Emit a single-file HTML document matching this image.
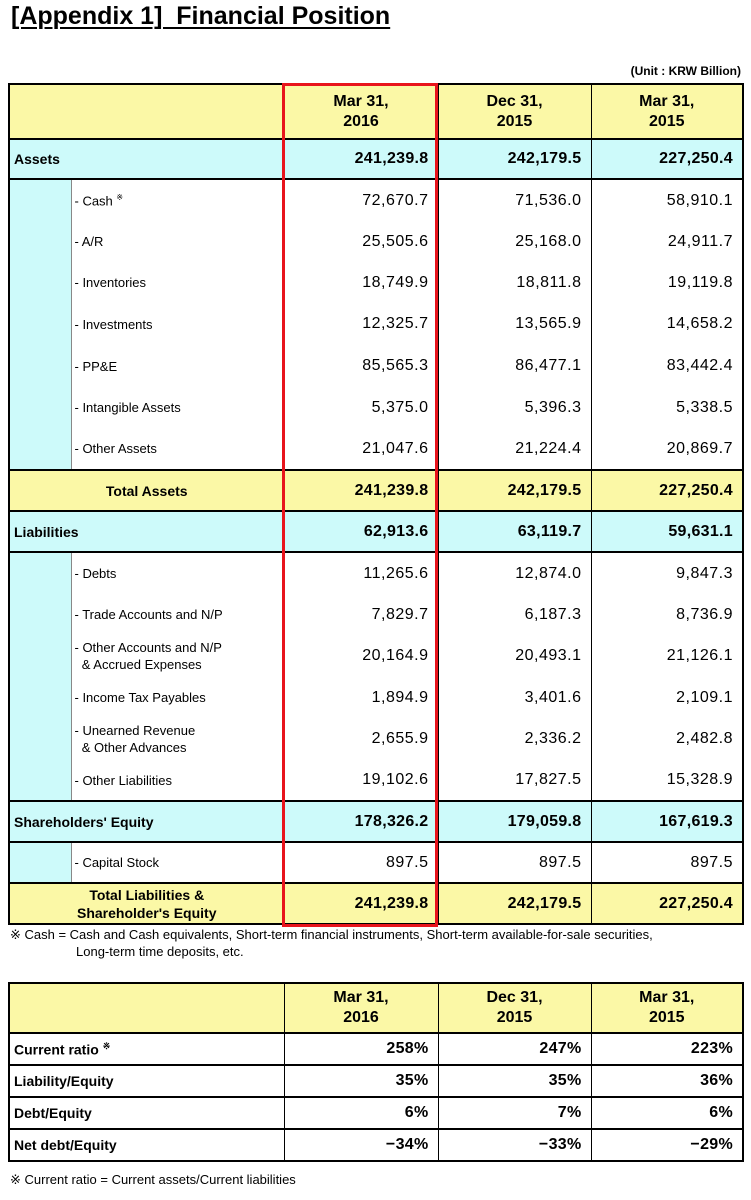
<!DOCTYPE html>
<html><head><meta charset="utf-8"><style>
body{margin:0;width:751px;height:1200px;background:#fff;font-family:"Liberation Sans",Arial,sans-serif;position:relative;overflow:hidden}
.t{position:absolute;left:11px;top:2px;font-size:25px;font-weight:bold;text-decoration:underline;text-decoration-thickness:2px;text-underline-offset:3px}
.u{position:absolute;right:10px;top:64px;font-size:12px;font-weight:bold}
table{position:absolute;left:8px;border-collapse:collapse;table-layout:fixed}
td{border-left:1px solid #000;border-right:1px solid #000;padding:0;font-size:14px}
.y{background:#fbf8a6}.c{background:#cdfafa}
.h td{border-top:2px solid #000;border-bottom:2px solid #000;text-align:center;font-weight:bold;font-size:16px;line-height:20px}
.b{font-weight:bold}
.v{text-align:right;padding-right:9px;font-size:16px;letter-spacing:0.5px}
.bv{text-align:right;padding-right:9px;font-size:16px;font-weight:bold;letter-spacing:0.3px}
.top td{border-top:2px solid #000}
.lab{padding-left:4px;font-weight:bold;font-size:14px}
.sl{padding-left:3px;font-size:13px;border-left:1px solid #888}
.cs{border-right:1px solid #888}
.red{position:absolute;left:282px;top:83px;width:150px;height:838px;border:3px solid #e8141c}
.n{position:absolute;font-size:13px}
</style></head><body>
<div class="t">[Appendix 1]&nbsp; Financial Position</div>
<div class="u">(Unit : KRW Billion)</div>
<table style="top:83px;width:734px;border:2px solid #000">
<colgroup><col style="width:62px"><col style="width:213px"><col style="width:154px"><col style="width:153px"><col style="width:152px"></colgroup>
<tr class="h y" style="height:55px"><td colspan="2"></td><td>Mar 31,<br>2016</td><td>Dec 31,<br>2015</td><td>Mar 31,<br>2015</td></tr>
<tr class="c" style="height:40px"><td colspan="2" class="lab" style="border-right:none">Assets</td><td class="bv">241,239.8</td><td class="bv">242,179.5</td><td class="bv">227,250.4</td></tr>
<tr class="top" style="height:42px"><td class="c cs" rowspan="7"></td><td class="sl">- Cash <sup style="font-size:8px">※</sup></td><td class="v">72,670.7</td><td class="v">71,536.0</td><td class="v">58,910.1</td></tr>
<tr style="height:41px"><td class="sl">- A/R</td><td class="v">25,505.6</td><td class="v">25,168.0</td><td class="v">24,911.7</td></tr>
<tr style="height:41px"><td class="sl">- Inventories</td><td class="v">18,749.9</td><td class="v">18,811.8</td><td class="v">19,119.8</td></tr>
<tr style="height:42px"><td class="sl">- Investments</td><td class="v">12,325.7</td><td class="v">13,565.9</td><td class="v">14,658.2</td></tr>
<tr style="height:42px"><td class="sl">- PP&amp;E</td><td class="v">85,565.3</td><td class="v">86,477.1</td><td class="v">83,442.4</td></tr>
<tr style="height:41px"><td class="sl">- Intangible Assets</td><td class="v">5,375.0</td><td class="v">5,396.3</td><td class="v">5,338.5</td></tr>
<tr style="height:42px"><td class="sl">- Other Assets</td><td class="v">21,047.6</td><td class="v">21,224.4</td><td class="v">20,869.7</td></tr>
<tr class="y top" style="height:41px"><td colspan="2" class="b" style="text-align:center;font-size:14px">Total Assets</td><td class="bv">241,239.8</td><td class="bv">242,179.5</td><td class="bv">227,250.4</td></tr>
<tr class="c top" style="height:41px"><td colspan="2" class="lab">Liabilities</td><td class="bv">62,913.6</td><td class="bv">63,119.7</td><td class="bv">59,631.1</td></tr>
<tr class="top" style="height:42px"><td class="c cs" rowspan="6"></td><td class="sl">- Debts</td><td class="v">11,265.6</td><td class="v">12,874.0</td><td class="v">9,847.3</td></tr>
<tr style="height:41px"><td class="sl">- Trade Accounts and N/P</td><td class="v">7,829.7</td><td class="v">6,187.3</td><td class="v">8,736.9</td></tr>
<tr style="height:42px"><td class="sl" style="line-height:17px">- Other Accounts and N/P<br>&nbsp;&nbsp;&amp; Accrued Expenses</td><td class="v">20,164.9</td><td class="v">20,493.1</td><td class="v">21,126.1</td></tr>
<tr style="height:41px"><td class="sl">- Income Tax Payables</td><td class="v">1,894.9</td><td class="v">3,401.6</td><td class="v">2,109.1</td></tr>
<tr style="height:42px"><td class="sl" style="line-height:17px">- Unearned Revenue<br>&nbsp;&nbsp;&amp; Other Advances</td><td class="v">2,655.9</td><td class="v">2,336.2</td><td class="v">2,482.8</td></tr>
<tr style="height:41px"><td class="sl">- Other Liabilities</td><td class="v">19,102.6</td><td class="v">17,827.5</td><td class="v">15,328.9</td></tr>
<tr class="c top" style="height:41px"><td colspan="2" class="lab">Shareholders' Equity</td><td class="bv">178,326.2</td><td class="bv">179,059.8</td><td class="bv">167,619.3</td></tr>
<tr class="top" style="height:41px"><td class="c cs"></td><td class="sl">- Capital Stock</td><td class="v">897.5</td><td class="v">897.5</td><td class="v">897.5</td></tr>
<tr class="y top" style="height:41px"><td colspan="2" class="b" style="text-align:center;line-height:18px">Total Liabilities &amp;<br>Shareholder's Equity</td><td class="bv">241,239.8</td><td class="bv">242,179.5</td><td class="bv">227,250.4</td></tr>
</table>
<div class="red"></div>
<div class="n" style="left:10px;top:927px">※ Cash = Cash and Cash equivalents, Short-term financial instruments, Short-term available-for-sale securities,</div>
<div class="n" style="left:76px;top:944px">Long-term time deposits, etc.</div>
<table style="top:982px;width:734px;border:2px solid #000">
<colgroup><col style="width:275px"><col style="width:154px"><col style="width:153px"><col style="width:152px"></colgroup>
<tr class="h y" style="height:50px"><td></td><td>Mar 31,<br>2016</td><td>Dec 31,<br>2015</td><td>Mar 31,<br>2015</td></tr>
<tr class="top" style="height:32px"><td class="lab">Current ratio <sup style="font-size:9px">※</sup></td><td class="bv">258%</td><td class="bv">247%</td><td class="bv">223%</td></tr>
<tr class="top" style="height:32px"><td class="lab">Liability/Equity</td><td class="bv">35%</td><td class="bv">35%</td><td class="bv">36%</td></tr>
<tr class="top" style="height:32px"><td class="lab">Debt/Equity</td><td class="bv">6%</td><td class="bv">7%</td><td class="bv">6%</td></tr>
<tr class="top" style="height:32px"><td class="lab">Net debt/Equity</td><td class="bv">−34%</td><td class="bv">−33%</td><td class="bv">−29%</td></tr>
</table>
<div class="n" style="left:10px;top:1172px">※ Current ratio = Current assets/Current liabilities</div>
</body></html>
